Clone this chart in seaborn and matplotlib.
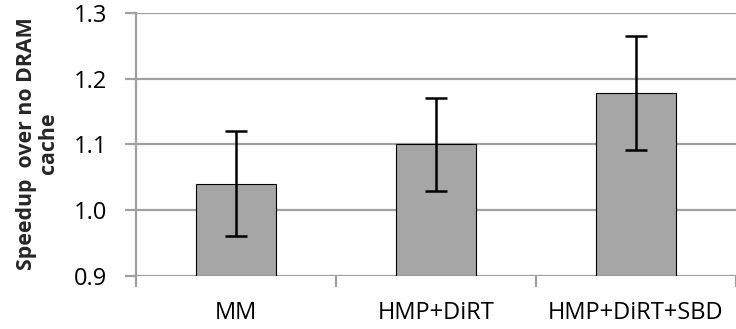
import matplotlib
matplotlib.use("Agg")
import matplotlib.pyplot as plt
import seaborn as sns
import pandas as pd
import numpy as np

categories = ["MM", "HMP+DiRT", "HMP+DiRT+SBD"]
speedup = [1.04, 1.10, 1.178]
err_low = [0.079, 0.070, 0.086]
err_high = [0.080, 0.071, 0.087]
y_ticks = [0.9, 1.0, 1.1, 1.2, 1.3]
y_floor = 0.9

sns.set_theme(style="white")
plt.rcParams["font.family"] = ["Open Sans", "DejaVu Sans"]

df = pd.DataFrame({"config": categories, "speedup": speedup})

fig = plt.figure(figsize=(7.36, 3.29), dpi=100)
ax = fig.add_axes([136 / 736, 53 / 329, 600 / 736, 263 / 329])

grid_col = "#a0a0a0"
for v in y_ticks:
    ax.axhline(v, color=grid_col, lw=1.6, zorder=0)

sns.barplot(data=df, x="config", y="speedup", color="#a6a6a6",
            edgecolor="black", linewidth=0.8, width=0.40, errorbar=None,
            saturation=1, ax=ax, zorder=2)
# bars rise from the bottom of the value axis
for p in ax.patches:
    top = p.get_y() + p.get_height()
    p.set_y(y_floor)
    p.set_height(top - y_floor)

ax.errorbar(np.arange(len(categories)), speedup, yerr=[err_low, err_high],
            fmt="none", ecolor="black", elinewidth=1.8, capsize=8,
            capthick=1.8, zorder=3)

ax.set_ylim(0.9, 1.3)
ax.set_xlim(-0.5, 2.477)
ax.set_yticks(y_ticks)
ax.set_yticklabels([f"{v:.1f}" for v in y_ticks])
ax.set_xticks(range(len(categories)))
ax.set_xticklabels(categories)
ax.set_xticks([-0.5, 0.5, 1.5, 2.5], minor=True)

for s in ["top", "right", "bottom"]:
    ax.spines[s].set_visible(False)
ax.spines["left"].set_color(grid_col)
ax.spines["left"].set_linewidth(1.6)

ax.tick_params(axis="y", which="major", length=8, width=1.6, color=grid_col,
               labelsize=17, labelcolor="black", pad=13, left=True)
ax.tick_params(axis="x", which="major", length=0, labelsize=17,
               labelcolor="black", pad=18)
ax.tick_params(axis="x", which="minor", length=8, width=1.6,
               color=grid_col, bottom=True)

ax.set_xlabel("")
ax.set_ylabel("Speedup  over no DRAM\ncache", fontsize=15.4, fontweight="bold",
              linespacing=1.05)
ax.yaxis.set_label_coords(-0.128, 0.505)

fig.savefig("out.png", dpi=100)
